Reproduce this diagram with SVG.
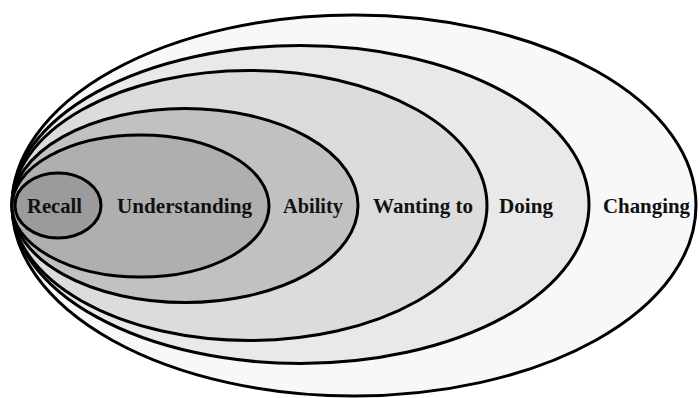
<svg xmlns="http://www.w3.org/2000/svg" width="699" height="398" viewBox="0 0 699 398">
<style>
.e{stroke:#000;stroke-width:3}
.t{font-family:"Liberation Serif","Times New Roman",serif;font-weight:bold;font-size:21.5px;fill:#111}
</style>
<rect width="699" height="398" fill="#fff"/>
<g id="changing"><ellipse class="e" cx="354" cy="205.5" rx="342" ry="190.5" fill="#f8f8f8"/></g>
<g id="doing"><ellipse class="e" cx="300.5" cy="204.5" rx="288.5" ry="159" fill="#e9e9e9"/></g>
<g id="wanting"><ellipse class="e" cx="249.5" cy="205.5" rx="237.5" ry="135" fill="#dcdcdc"/></g>
<g id="ability"><ellipse class="e" cx="185" cy="205.5" rx="173" ry="97" fill="#c1c1c1"/></g>
<g id="understanding"><ellipse class="e" cx="140.5" cy="206" rx="128.5" ry="71" fill="#afafaf"/></g>
<g id="recall"><ellipse class="e" cx="58" cy="205.5" rx="43" ry="32.5" fill="#9b9b9b"/></g>
<g id="labels">
<text class="t" x="27" y="213" textLength="55" lengthAdjust="spacingAndGlyphs">Recall</text>
<text class="t" x="117" y="213" textLength="135" lengthAdjust="spacingAndGlyphs">Understanding</text>
<text class="t" x="283" y="213" textLength="60" lengthAdjust="spacingAndGlyphs">Ability</text>
<text class="t" x="373" y="213" textLength="100" lengthAdjust="spacingAndGlyphs">Wanting to</text>
<text class="t" x="499" y="213" textLength="54" lengthAdjust="spacingAndGlyphs">Doing</text>
<text class="t" x="603" y="213" textLength="87" lengthAdjust="spacingAndGlyphs">Changing</text>
</g>
</svg>
